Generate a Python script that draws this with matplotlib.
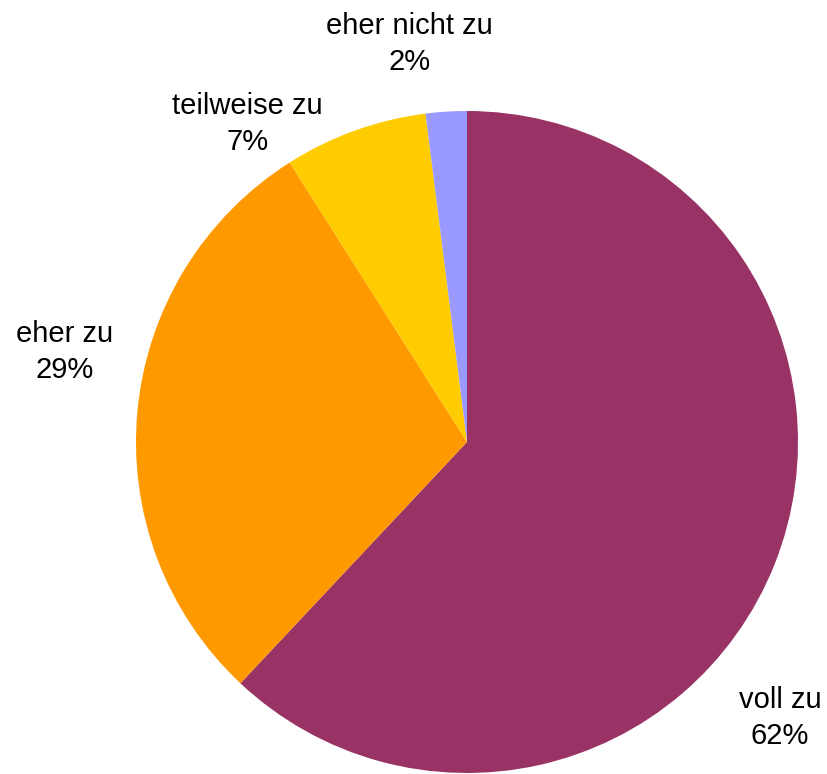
import matplotlib
matplotlib.use("Agg")
import matplotlib.pyplot as plt

categories = ["voll zu", "eher zu", "teilweise zu", "eher nicht zu"]
values = [62, 29, 7, 2]
colors = ["#993366", "#FF9900", "#FFCC00", "#9999FF"]
# label positions in units of pie radius (relative to centre)
label_pos = [(0.946, -0.834), (-1.217, 0.271), (-0.663, 0.961), (-0.175, 1.202)]

plt.rcParams['font.family'] = ['Liberation Sans', 'DejaVu Sans']

W, H = 827, 774
fig = plt.figure(figsize=(W / 100, H / 100), dpi=100)
cx, cy, r = 467, 442, 331
ax = fig.add_axes([(cx - r) / W, (H - cy - r) / H, 2 * r / W, 2 * r / H])
ax.pie(values, colors=colors, startangle=90, counterclock=False,
       radius=1, wedgeprops=dict(linewidth=0))
ax.set_xlim(-1, 1)
ax.set_ylim(-1, 1)
ax.set_aspect('equal')
ax.axis('off')

for cat, v, (x, y) in zip(categories, values, label_pos):
    ax.text(x, y, f"{cat}\n{v}%", ha='center', va='center', fontsize=21,
            linespacing=1.38, clip_on=False, color='black')

fig.savefig("out.png", dpi=100)
